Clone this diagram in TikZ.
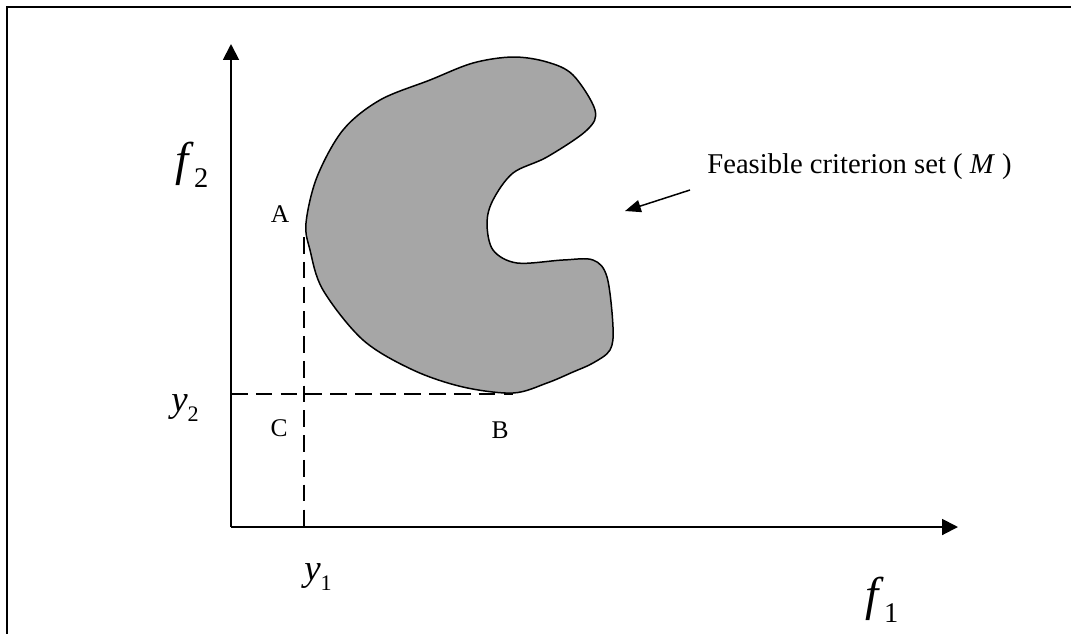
\documentclass[tikz,border=0pt]{standalone}
\usepackage{fontspec}
\setmainfont{Liberation Serif}
\usetikzlibrary{arrows.meta}
\definecolor{setgray}{RGB}{166,166,166}
\newcommand{\sublab}[3]{{\fontsize{#3}{#3}\selectfont\textit{#1}\raisebox{-0.25em}{\fontsize{0.6\dimexpr#3pt\relax}{10}\selectfont #2}}}
\begin{document}
\begin{tikzpicture}[x=0.02cm,y=-0.02cm,
  frame/.style={line width=1.5pt},
  axis/.style={line width=1.1pt,-{Triangle[length=9pt,width=9pt]}},
  guide/.style={line width=0.85pt,dash pattern=on 9.5pt off 4.6pt},
  setshape/.style={fill=setgray,draw=black,line width=0.85pt},
  pt/.style={font=\fontsize{14.5}{14.5}\selectfont,inner sep=0pt},
  pointer/.style={line width=0.85pt,-{Triangle[length=9pt,width=7pt]}}]
\useasboundingbox (0,0) rectangle (1071,633);
% frame (right and bottom edges lie outside the picture)
\draw[frame] (7,660) -- (7,7) -- (1090,7);
% axes
\coordinate (O) at (231,527);
\coordinate (Ytip) at (231,44);
\coordinate (Xtip) at (958,527);
\draw[axis] (O) -- (Ytip);
\draw[axis] (O) -- (Xtip);
% feasible set
\draw[setshape] plot[smooth cycle,tension=0.55] coordinates {
 (306,223) (310,250) (323,290) (363,340) (413,370) (463,387) (513,393)
 (547,383) (573,372) (593,363) (610,350) (613,327) (607,277) (593,260)
 (563,260) (517,263) (493,250) (487,223) (493,200) (513,173) (547,157)
 (587,130) (595,110) (573,75) (547,62) (513,57) (473,63) (430,80)
 (380,100) (343,130) (317,177)};
% guide lines
\coordinate (Afoot) at (304,237);
\coordinate (Bpt) at (513,394);
\coordinate (Xfoot) at (304,527);
\coordinate (Yfoot) at (231,394);
\draw[guide] (Afoot) -- (Xfoot);
\draw[guide] (Yfoot) -- (Bpt);
% labels
\node[inner sep=0pt] (f2) at (192,165) {\sublab{f}{2}{27}};
\node[inner sep=0pt] (f1) at (882,600) {\sublab{f}{1}{27}};
\node[inner sep=0pt] (y2) at (185,408) {\sublab{y}{2}{21}};
\node[inner sep=0pt] (y1) at (318,577) {\sublab{y}{1}{21}};
\node[pt] (A) at (280,214) {A};
\node[pt] (C) at (279,428) {C};
\node[pt] (B) at (500,430) {B};
\node[anchor=base west,inner sep=0pt,font=\fontsize{16.3}{16.3}\selectfont] (txt) at (707,173) {Feasible criterion set ( \textit{M} )};
\coordinate (ptail) at (690,190);
\coordinate (phead) at (625,211);
\draw[pointer] (ptail) -- (phead);
\end{tikzpicture}
\end{document}
